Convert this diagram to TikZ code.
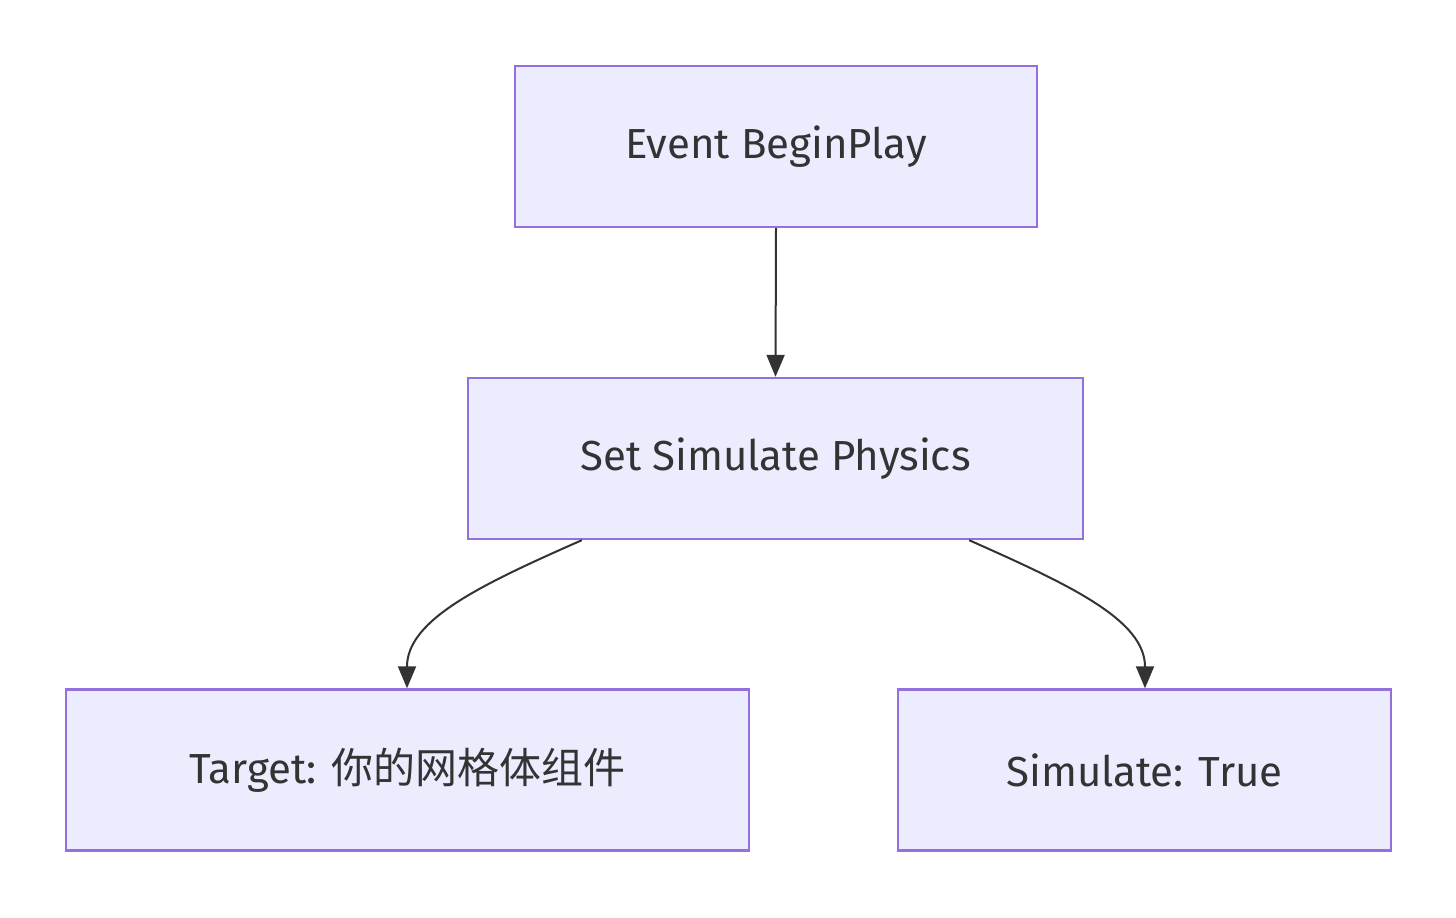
\documentclass[tikz,border=0pt]{standalone}
\usepackage{fontspec}
\setmainfont{Fira Sans}
\newfontfamily\cjk{Noto Sans CJK SC}
\usetikzlibrary{arrows.meta}
\definecolor{boxfill}{HTML}{ECECFF}
\definecolor{boxline}{HTML}{9370DB}
\definecolor{inkgray}{HTML}{333333}
\tikzset{
  block/.style={draw=boxline,fill=boxfill,line width=1.2pt,text=inkgray,
    font=\fontsize{21}{25}\selectfont,inner sep=0pt,minimum height=80.5pt},
  flow/.style={draw=inkgray,line width=1pt,-{Triangle[length=11pt,width=9pt]}}
}
\begin{document}
\begin{tikzpicture}[x=0.5pt,y=-0.5pt]
  % canvas
  \useasboundingbox (0,0) rectangle (1456,917);
  % blocks
  \node[block,minimum width=261pt] (begin) at (776,146.5) {Event BeginPlay};
  \node[block,minimum width=307.5pt] (physics) at (775.5,458.5) {Set Simulate Physics};
  \node[block,minimum width=341.5pt] (target) at (407.5,770) {Target: {\cjk 你的网格体组件}};
  \node[block,minimum width=246.5pt] (simulate) at (1144.5,770) {Simulate: True};
  % connectors
  \draw[flow] (begin.south) -- (physics.south |- physics.north);
  \draw[flow] (physics.south west) ++(115,0) coordinate (p1)
    .. controls (480,585) and (407,620) .. (target.north -| 407,0);
  \draw[flow] (physics.south east) ++(-115,0) coordinate (p2)
    .. controls (1070,585) and (1145,620) .. (simulate.north -| 1145,0);
\end{tikzpicture}
\end{document}
